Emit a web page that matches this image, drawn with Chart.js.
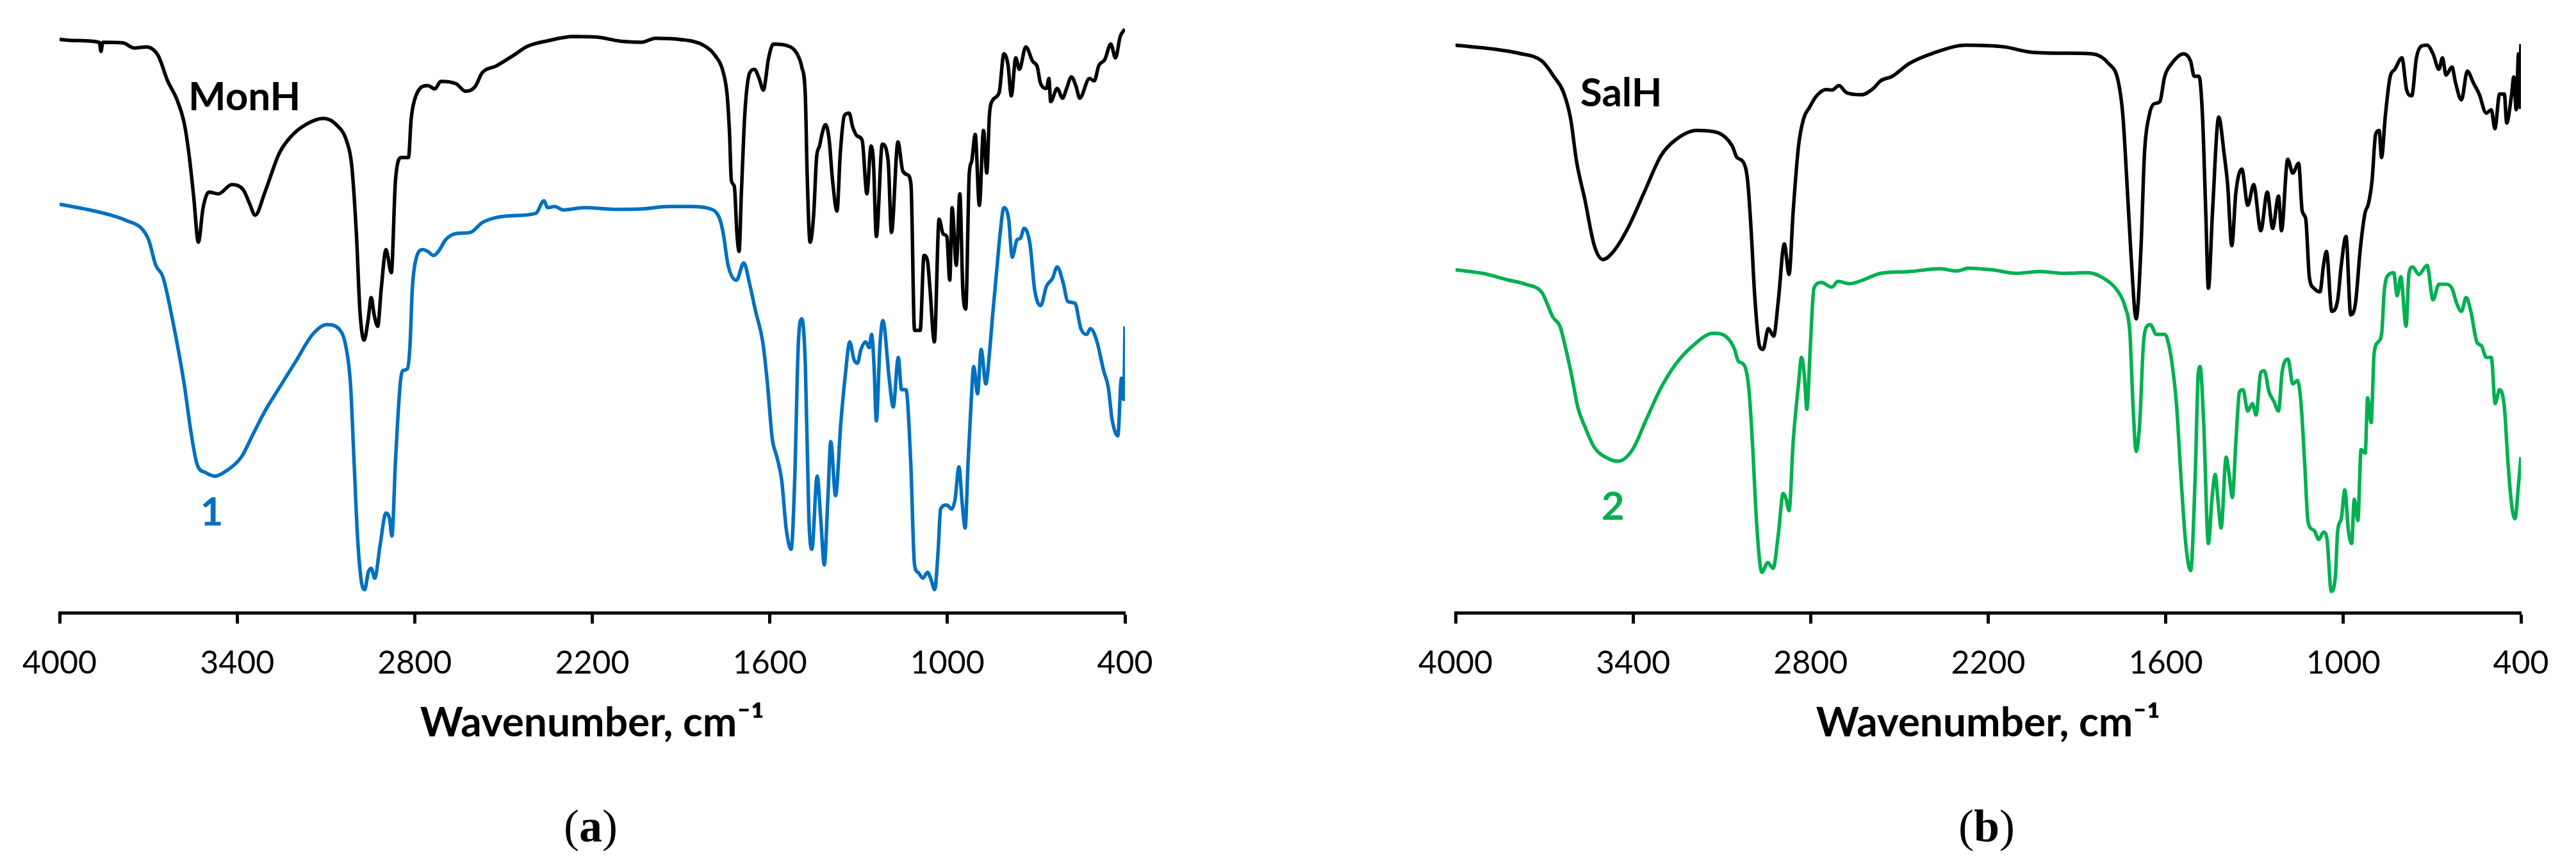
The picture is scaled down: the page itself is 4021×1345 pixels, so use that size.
<!DOCTYPE html>
<html>
<head>
<meta charset="utf-8">
<script src="https://cdn.jsdelivr.net/npm/chart.js@4.4.1/dist/chart.umd.min.js"></script>
<style>
  html, body { margin: 0; padding: 0; background: #fff; }
  body { width: 4021px; height: 1345px; position: relative; overflow: hidden; }
  .panel { position: absolute; top: 0; width: 1840px; height: 1345px; }
  .cap { position: absolute; top: 1289px; transform: translate(-50%, -50%);
         font-family: "Liberation Serif", serif; font-size: 72px; color: #000; line-height: 1; }
</style>
</head>
<body>
<div class="panel" style="left:0"><canvas id="chartA"></canvas></div>
<div class="panel" style="left:2179px"><canvas id="chartB"></canvas></div>
<div class="cap" style="left:922px">(<b>a</b>)</div>
<div class="cap" style="left:3101px">(<b>b</b>)</div>
<script>
// x axis ticks (cm-1)
const wavenumberTicks = [4000, 3400, 2800, 2200, 1600, 1000, 400];

// [wavenumber, relative transmittance]
const monhSpectrum = [
  [4000,99.5],[3948,99.3],[3866,99],[3860,97.4],[3854,99],[3787,98.9],[3747,98],[3707,98.2],
  [3667,96.7],[3635,92.3],[3603,89],[3579,85],[3563,79.7],[3547,72.3],[3531,64.3],[3515,70.3],
  [3495,73],[3463,72.7],[3418,74.3],[3378,73.3],[3358,71],[3339,69],[3306,73],[3258,79.7],
  [3217,82.7],[3169,84.7],[3109,85.8],[3065,84.7],[3029,81.7],[3013,77.7],[2997,65.7],[2985,52.3],
  [2971,47.3],[2957,51],[2947,54.7],[2937,51.7],[2925,49.7],[2913,56.3],[2897,63],[2879,59],
  [2865,75],[2845,79],[2821,79],[2812,85.7],[2796,89.7],[2756,91.5],[2732,90.9],[2712,92.2],
  [2660,91.8],[2628,90.5],[2596,91.3],[2572,93.7],[2524,94.9],[2467,96.7],[2419,98.3],[2346,99.3],
  [2266,100],[2186,99.9],[2106,99.2],[2034,99],[1986,99.7],[1905,99.5],[1825,98.5],[1785,96.7],
  [1757,93.7],[1744,89.7],[1736,83],[1730,75],[1720,74],[1711,65.7],[1704,62.7],[1696,73],
  [1684,87],[1668,93.7],[1652,94.3],[1636,92.7],[1622,90.7],[1604,96.3],[1588,98.7],[1548,98.5],
  [1508,97],[1492,94.7],[1480,89.7],[1474,76.3],[1464,64.3],[1452,69],[1442,79],[1432,81],
  [1424,83],[1412,84.7],[1400,82.3],[1388,75],[1373,69.7],[1362,79.7],[1348,86.3],[1332,86.7],
  [1320,84.3],[1304,82.7],[1288,82],[1272,72.7],[1258,81],[1250,78.3],[1240,65.3],[1220,81.3],
  [1200,78.3],[1189,66],[1167,81.7],[1151,76.7],[1135,76],[1123,74.3],[1111,49],[1092,49],
  [1079,62],[1067,61],[1059,56.3],[1044,47],[1028,68.3],[1014,65.7],[1002,65.3],[992,57.7],
  [984,70.3],[970,60.3],[958,72.7],[948,56.3],[938,52.7],[926,76.3],[918,78.3],[906,83],
  [892,70.7],[878,83.7],[867,76.3],[858,86.3],[846,89],[825,90.3],[809,97],[795,95],
  [784,89.7],[769,96.3],[757,94.3],[735,98.2],[712,95.7],[696,94.7],[686,92],[665,91],
  [657,92.7],[651,88.7],[629,91],[611,89.3],[597,91],[581,93],[565,91.3],[553,89.3],
  [520,92.7],[504,92.3],[488,95],[468,96],[448,98.7],[432,96.3],[416,100],[400,101.3]
];

const complex1Spectrum = [
  [4000,70.9],[3908,70],[3827,69],[3771,68],[3723,66.7],[3699,64.7],[3675,60.3],[3651,58.3],
  [3619,51],[3579,39.7],[3555,31],[3535,25.7],[3506,24.3],[3474,23.7],[3434,24.7],[3386,27],
  [3346,31],[3306,35],[3258,39],[3201,43.7],[3145,48.3],[3097,50],[3057,49.3],[3033,46.3],
  [3017,39.7],[3005,26.3],[2993,13],[2981,5.7],[2969,4],[2957,7],[2947,7.7],[2935,6],
  [2917,11.7],[2897,17.3],[2885,16.3],[2877,13.3],[2865,26.3],[2849,39.7],[2841,42],[2825,42.3],
  [2816,46.3],[2808,56.3],[2796,61.3],[2772,63],[2756,62.7],[2736,62],[2716,63],[2696,64.7],
  [2660,65.8],[2612,66],[2572,67.7],[2531,68.5],[2467,68.9],[2391,69.3],[2363,71.5],[2351,70.3],
  [2327,70.5],[2298,69.9],[2226,70.3],[2122,70],[2025,70.1],[1945,70.5],[1865,70.5],[1809,70.2],
  [1769,68.3],[1757,65.7],[1741,60.3],[1713,57.7],[1688,60.7],[1668,57],[1648,52.3],[1624,47],
  [1608,39.7],[1592,30.3],[1576,27],[1560,23],[1544,14.3],[1528,11],[1516,23],[1504,46.3],
  [1492,51],[1480,43],[1468,16.3],[1458,11],[1440,23.7],[1428,16.3],[1416,8.3],[1404,19.7],
  [1394,29.7],[1378,20.3],[1360,33],[1344,41.7],[1330,47],[1316,44],[1304,43.3],[1292,45.7],
  [1276,47],[1264,46],[1256,48.3],[1248,43],[1240,33.3],[1228,46.3],[1218,50.7],[1196,40.3],
  [1183,35.7],[1166,44.3],[1155,38.7],[1140,38.7],[1124,26.3],[1111,8.3],[1099,7],[1083,6],
  [1067,7],[1055,5.7],[1043,4],[1031,11],[1023,18],[1002,18.7],[986,18],[974,19.7],
  [961,25.3],[950,19],[940,14.7],[930,26.3],[920,36.3],[911,42.7],[898,38],[886,45.7],
  [870,39.7],[858,45],[846,52.3],[834,59],[822,65.7],[809,70.3],[793,68.3],[781,61.7],
  [765,64.7],[753,65],[741,66.7],[721,64],[705,56],[685,53.3],[665,56.7],[645,58],
  [629,60],[609,57.3],[593,54],[569,53.7],[549,49.3],[529,48.3],[517,49.3],[496,47.3],
  [472,42],[456,39],[444,33.7],[424,30.7],[412,40.7],[404,37],[400,49.7]
];

const salhSpectrum = [
  [4000,98.5],[3868,97.8],[3787,97.1],[3707,95.7],[3667,93],[3635,90.3],[3611,85.7],[3591,78.3],
  [3563,71.7],[3531,63.7],[3502,61.3],[3466,62.7],[3418,66.7],[3362,73],[3306,79.3],[3258,82],
  [3185,83.7],[3113,83.3],[3065,81],[3049,79],[3029,78.3],[3013,75],[3001,66.3],[2989,55],
  [2973,46.3],[2961,45.7],[2943,49.3],[2925,48],[2909,54.3],[2889,64],[2873,58.7],[2859,69.7],
  [2841,81],[2824,85.7],[2804,87.7],[2780,89.7],[2748,90.8],[2728,90.7],[2704,91.5],[2680,90.3],
  [2628,89.9],[2588,91],[2564,92.3],[2524,93.1],[2467,95.3],[2387,97.1],[2274,98.5],[2146,98.2],
  [2058,97.3],[1945,97.1],[1849,97],[1793,95.3],[1761,92.3],[1745,86.3],[1733,76.3],[1717,61.7],
  [1700,51],[1684,63],[1672,79.7],[1656,86.3],[1640,88.3],[1620,88.7],[1604,93],[1580,95.3],
  [1540,97],[1516,95.7],[1504,93.1],[1488,93.1],[1476,86.3],[1465,69.7],[1456,56.3],[1442,69.7],
  [1421,86],[1403,79.7],[1391,74.3],[1377,63.7],[1363,73],[1343,77],[1323,70.7],[1303,74.3],
  [1279,66.3],[1257,73],[1239,66.7],[1219,72.3],[1209,66.3],[1188,78.7],[1171,76.3],[1151,78],
  [1139,69.7],[1127,68.3],[1115,58.3],[1099,56.3],[1079,55.7],[1067,60.3],[1057,62.7],[1039,52.3],
  [1019,54.3],[1007,60.3],[991,65.3],[975,51.7],[959,53.7],[943,63],[927,69.3],[915,71],
  [903,75],[891,83],[879,83.7],[871,79],[858,86.3],[842,93],[826,94.3],[802,96.3],
  [786,90.7],[769,89.7],[753,96.3],[737,98.3],[717,98.5],[697,97],[677,94.3],[665,96.3],
  [653,93.3],[633,94.7],[621,92],[601,89],[581,94],[561,92],[541,90],[517,86.7],
  [500,87.3],[488,84],[472,90],[456,90],[448,85],[432,89.7],[424,93],[416,87.3],
  [408,97],[404,87.7],[400,98.7]
];

const complex2Spectrum = [
  [4000,59.5],[3908,58.9],[3819,57.7],[3763,57],[3707,55.5],[3691,53.7],[3671,51.3],[3647,49.7],
  [3627,45.7],[3607,41],[3587,35.7],[3563,32.3],[3531,28.7],[3482,26.7],[3450,26.3],[3402,28.3],
  [3354,33.7],[3306,39],[3258,43],[3201,46.2],[3129,48.5],[3081,47.7],[3057,45.7],[3045,43.7],
  [3025,43],[3009,39],[2997,29.7],[2981,14.3],[2965,7],[2945,8.7],[2927,7.7],[2909,13.7],
  [2893,20.7],[2883,19.7],[2873,17.7],[2859,29.7],[2841,39.7],[2831,44.3],[2821,41],[2813,35.3],
  [2801,46.3],[2789,56.3],[2764,57.3],[2728,56.5],[2708,57.5],[2668,57.1],[2620,57.8],[2564,58.9],
  [2467,59.2],[2363,59.7],[2307,59.3],[2266,59.8],[2186,59.5],[2106,58.9],[2025,59.2],[1945,58.9],
  [1865,59],[1809,58],[1761,55.7],[1737,53],[1721,48.3],[1711,36.3],[1700,28],[1688,33],
  [1676,46.3],[1664,49.7],[1652,50],[1632,48.3],[1604,48.3],[1596,47.7],[1580,43.7],[1564,36.3],
  [1548,23],[1532,11.7],[1516,7.3],[1501,23],[1490,41.7],[1484,42.7],[1472,33],[1456,12],
  [1444,19.7],[1433,24],[1424,19.7],[1413,14.7],[1396,27],[1386,24],[1375,20],[1363,29.7],
  [1351,38.3],[1339,38.7],[1323,35],[1307,36.3],[1295,34.3],[1279,41.7],[1267,42],[1251,38.3],
  [1235,36.7],[1219,35],[1207,41.7],[1187,44],[1171,39.7],[1155,40.3],[1143,36.3],[1131,26.3],
  [1119,15.7],[1099,14.3],[1083,12.7],[1067,14],[1055,12.7],[1041,3.7],[1027,6.3],[1019,14.3],
  [1007,16.3],[995,21.3],[983,14.3],[972,12],[963,19.7],[951,16],[940,28.3],[926,27.7],
  [918,37.3],[906,33],[896,45],[882,47],[870,48.7],[862,55.7],[846,58.7],[830,59],
  [818,55],[806,58.3],[788,49.7],[778,59],[766,60],[745,58.7],[717,60.3],[697,54.3],
  [677,57],[653,57],[633,56.3],[617,53.7],[601,52.3],[585,54.7],[569,52.3],[549,47],
  [533,46.3],[517,44.3],[500,44.3],[487,36.3],[472,38.7],[456,35.7],[444,26.3],[432,19],
  [420,16.3],[408,22.3],[400,27]
];

// trace labels: text, wavenumber, transmittance, colour
const labelsA = [["MonH", 3375, 89.4, "#000000"], ["1", 3486, 17.4, "#0070C0"]];
const labelsB = [["SalH", 3440, 90.1, "#000000"], ["2", 3468, 18.4, "#00B050"]];

/*draws the trace names at data positions*/
const traceLabels = {
  id: "traceLabels",
  afterDatasetsDraw(chart, args, opts) {
    const ctx = chart.ctx;
    ctx.save();
    ctx.font = "bold 62px Lato, 'DejaVu Sans', sans-serif";
    ctx.textAlign = "center";
    ctx.textBaseline = "middle";
    opts.items.forEach((l) => {
      ctx.fillStyle = l[3];
      ctx.fillText(l[0], chart.scales.x.getPixelForValue(l[1]), chart.scales.y.getPixelForValue(l[2]));
    });
    ctx.restore();
  },
};

function toPoints(arr) {
  return arr.map((p) => ({ x: p[0], y: p[1] }));
}

function makePanel(id, upper, lower, lowerColor, labels) {
  const ctx = document.getElementById(id).getContext("2d");
  return new Chart(ctx, {
    type: "line",
    data: {
      datasets: [
        { data: toPoints(upper), borderColor: "#000000" },
        { data: toPoints(lower), borderColor: lowerColor },
      ],
    },
    options: {
      animation: false,
      responsive: true,
      maintainAspectRatio: false,
      layout: { padding: { left: 93, right: 84, top: 21, bottom: 178 } },
      elements: {
        point: { radius: 0 },
        line: { borderWidth: 5.5, cubicInterpolationMode: "monotone", fill: false },
      },
      plugins: {
        legend: { display: false },
        tooltip: { enabled: false },
        traceLabels: { items: labels },
      },
      scales: {
        x: {
          type: "linear",
          reverse: true,
          min: 400,
          max: 4000,
          afterBuildTicks: (axis) => {
            axis.ticks = wavenumberTicks.map((v) => ({ value: v }));
          },
          ticks: {
            color: "#000",
            font: { family: "Lato", size: 50 },
            padding: 32,
            maxRotation: 0,
            autoSkip: false,
            callback: (v) => String(v),
          },
          grid: { drawOnChartArea: false, drawTicks: true, tickLength: 17, tickWidth: 5, tickColor: "#000" },
          border: { display: true, color: "#000", width: 5 },
          title: {
            display: true,
            text: "Wavenumber, cm\u207B\u00B9",
            color: "#000",
            font: { family: "Lato, 'DejaVu Sans'", size: 64, weight: "bold" },
            padding: 0,
          },
          afterFit: (axis) => {
            axis.height = 211;
          },
        },
        y: { display: false, min: 0, max: 104 },
      },
    },
    plugins: [traceLabels],
  });
}

makePanel("chartA", monhSpectrum, complex1Spectrum, "#0070C0", labelsA);
makePanel("chartB", salhSpectrum, complex2Spectrum, "#00B050", labelsB);
</script>
</body>
</html>
